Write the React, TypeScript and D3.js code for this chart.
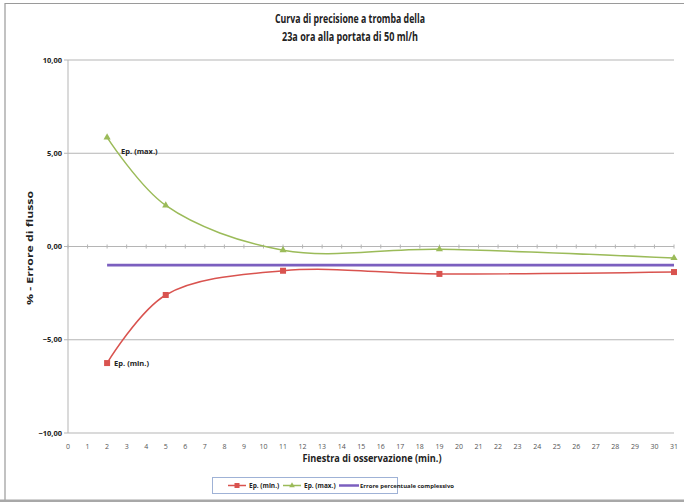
import React from "react";
import * as d3 from "d3";

const minutes = [2, 5, 11, 19, 31];
const epMin = [-6.25, -2.6, -1.3, -1.47, -1.37];
const epMax = [5.85, 2.2, -0.2, -0.15, -0.62];
const overallError = -1.0;
const overallRange = [2, 31];
const yTicks = [10, 5, 0, -5, -10];
const xTicks = d3.range(0, 32);
const titleLines = ["Curva di precisione a tromba della", "23a ora alla portata di 50 ml/h"];
const xTitle = "Finestra di osservazione (min.)";
const yTitle = "% - Errore di flusso";
const legendItems = ["Ep. (min.)", "Ep. (max.)", "Errore percentuale complessivo"];

const W = 684;
const H = 502;
const FONT = "'Open Sans', 'Liberation Sans', sans-serif";
const RED = "#d9534f";
const GREEN = "#9bbb59";
const PURPLE = "#7b5fbf";
const GRID = "#b5b5b5";

export default function App() {
  const x = d3.scaleLinear().domain([0, 31]).range([68, 674]);
  const y = d3.scaleLinear().domain([-10, 10]).range([433, 60]);
  const line = d3
    .line<[number, number]>()
    .x((d) => x(d[0]))
    .y((d) => y(d[1]))
    .curve(d3.curveCatmullRom.alpha(0.5));
  const minPts: [number, number][] = minutes.map((m, i) => [m, epMin[i]]);
  const maxPts: [number, number][] = minutes.map((m, i) => [m, epMax[i]]);
  const tri = d3.symbol().type(d3.symbolTriangle).size(22)();

  return (
    <svg
      width={W}
      height={H}
      style={{ position: "absolute", left: 0, top: 0, background: "#fff" }}
      fontFamily={FONT}
    >
      <rect x={0} y={0} width={W} height={H} fill="#fff" />
      {/* outer frame */}
      <path d={`M5,${H} V3.5 H${W}`} fill="none" stroke="#9a9a9a" strokeWidth={1.2} />
      <line x1={0} x2={W} y1={501} y2={501} stroke="#a8a8a8" strokeWidth={3} />

      {/* title */}
      {titleLines.map((t, i) => (
        <text
          key={i}
          x={350}
          y={23 + i * 18}
          textAnchor="middle"
          fontSize={11.5}
          fontWeight="bold"
          fill="#222"
          textLength={i === 0 ? 150 : 136}
          lengthAdjust="spacingAndGlyphs"
        >
          {t}
        </text>
      ))}

      {/* gridlines */}
      {yTicks.map((v) => (
        <g key={v}>
          <line x1={64} x2={674} y1={y(v)} y2={y(v)} stroke={GRID} strokeWidth={1} />
          <text
            x={62}
            y={y(v) + 2.5}
            textAnchor="end"
            fontSize={7.5}
            fontWeight="bold"
            fill="#222"
          >
            {d3.format(".2f")(v).replace(".", ",")}
          </text>
        </g>
      ))}
      {/* y axis */}
      <line x1={68} x2={68} y1={y(10)} y2={y(-10)} stroke={GRID} strokeWidth={1} />
      {/* x axis ticks on zero line */}
      {xTicks.map((t) => (
        <line key={t} x1={x(t)} x2={x(t)} y1={y(0) - 2} y2={y(0) + 2} stroke={GRID} strokeWidth={1} />
      ))}
      {xTicks.map((t) => (
        <text key={t} x={x(t)} y={449} textAnchor="middle" fontSize={7} fill="#555">
          {t}
        </text>
      ))}

      {/* axis titles */}
      <text
        x={372}
        y={462}
        textAnchor="middle"
        fontSize={10}
        fontWeight="bold"
        fill="#222"
        textLength={139}
        lengthAdjust="spacingAndGlyphs"
      >
        {xTitle}
      </text>
      <text
        transform={`translate(33,${248}) rotate(-90)`}
        textAnchor="middle"
        fontSize={9.5}
        fontWeight="bold"
        fill="#222"
        textLength={114}
        lengthAdjust="spacingAndGlyphs"
      >
        {yTitle}
      </text>

      {/* overall error */}
      <line
        x1={x(overallRange[0])}
        x2={x(overallRange[1])}
        y1={y(overallError)}
        y2={y(overallError)}
        stroke={PURPLE}
        strokeWidth={2.6}
      />
      {/* series */}
      <path d={line(maxPts) || ""} fill="none" stroke={GREEN} strokeWidth={1.5} />
      <path d={line(minPts) || ""} fill="none" stroke={RED} strokeWidth={1.5} />
      {maxPts.map((p, i) => (
        <path key={i} d={tri || ""} transform={`translate(${x(p[0])},${y(p[1])})`} fill={GREEN} />
      ))}
      {minPts.map((p, i) => (
        <rect key={i} x={x(p[0]) - 3} y={y(p[1]) - 3} width={6} height={6} fill={RED} />
      ))}
      {/* data labels */}
      <text x={x(minutes[0]) + 14} y={y(epMax[0]) + 17} fontSize={7.5} fontWeight="bold" fill="#222">
        Ep. (max.)
      </text>
      <text x={x(minutes[0]) + 7} y={y(epMin[0]) + 3} fontSize={7.5} fontWeight="bold" fill="#222">
        Ep. (min.)
      </text>

      {/* legend */}
      <rect x={212.5} y={477.5} width={185} height={16} fill="#fff" stroke="#9fb2d6" strokeWidth={1} />
      <line x1={228} x2={246} y1={485.5} y2={485.5} stroke={RED} strokeWidth={1.5} />
      <rect x={234.5} y={483} width={5} height={5} fill={RED} />
      <text x={249} y={488} fontSize={6.5} fontWeight="bold" fill="#222">
        {legendItems[0]}
      </text>
      <line x1={283} x2={301} y1={485.5} y2={485.5} stroke={GREEN} strokeWidth={1.5} />
      <path d={d3.symbol().type(d3.symbolTriangle).size(14)() || ""} transform="translate(292,485.5)" fill={GREEN} />
      <text x={304} y={488} fontSize={6.5} fontWeight="bold" fill="#222">
        {legendItems[1]}
      </text>
      <line x1={339} x2={359} y1={485.5} y2={485.5} stroke={PURPLE} strokeWidth={2.5} />
      <text
        x={360}
        y={487.5}
        fontSize={6}
        fontWeight="bold"
        fill="#222"
        textLength={94}
        lengthAdjust="spacingAndGlyphs"
      >
        {legendItems[2]}
      </text>
    </svg>
  );
}
